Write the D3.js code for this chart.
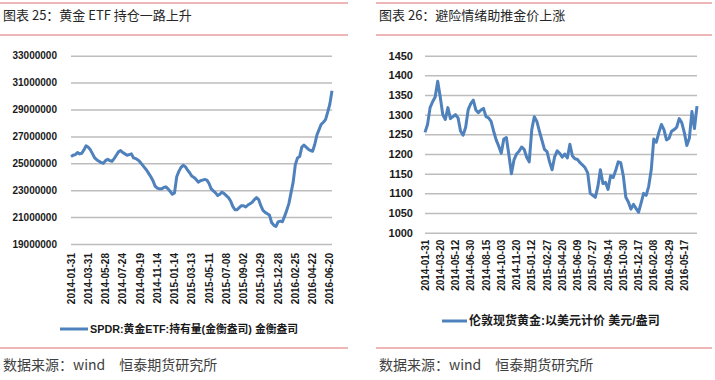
<!DOCTYPE html>
<html><head><meta charset="utf-8">
<script src="https://cdn.jsdelivr.net/npm/d3@7"></script>
<style>body{margin:0;background:#fff}svg{display:block}</style>
</head><body>
<svg id="c" width="715" height="380"></svg>
<script>
// ---- Left chart: SPDR gold ETF holdings (millions of troy oz) ----
const etfTitle = "图表 25：黄金 ETF 持仓一路上升";
const etfLegend = "SPDR:黄金ETF:持有量(金衡盎司) 金衡盎司";
const etfDateLabels = ["2014-01-31","2014-03-31","2014-05-28","2014-07-24","2014-09-19","2014-11-14",
  "2015-01-14","2015-03-13","2015-05-11","2015-07-08","2015-09-02","2015-10-29","2015-12-28",
  "2016-02-25","2016-04-22","2016-06-20"];
const etfYTicks = [19,21,23,25,27,29,31,33]; // millions
const etfHoldingsM = [
  25.5,25.6,25.65,25.8,25.7,25.75,26.0,26.3,26.2,26.0,
  25.7,25.4,25.25,25.15,25.05,25.0,25.2,25.3,25.2,25.15,
  25.35,25.6,25.85,25.95,25.8,25.7,25.6,25.65,25.7,25.4,
  25.35,25.25,25.1,24.9,24.7,24.5,24.25,24.0,23.7,23.3,
  23.15,23.1,23.1,23.2,23.25,23.1,22.9,22.7,22.8,24.0,
  24.4,24.7,24.85,24.75,24.5,24.3,24.05,23.95,23.8,23.6,
  23.7,23.75,23.8,23.75,23.5,23.1,22.95,22.8,22.6,22.7,
  22.85,22.75,22.6,22.45,22.2,21.8,21.55,21.55,21.7,21.85,
  21.85,21.75,21.9,22.0,22.1,22.3,22.45,22.3,21.85,21.5,
  21.35,21.25,21.15,20.6,20.4,20.3,20.65,20.7,20.65,21.05,
  21.5,22.0,22.8,23.6,24.9,25.4,25.5,26.2,26.35,26.2,
  26.05,25.95,25.9,26.4,27.1,27.5,27.9,28.05,28.25,28.8,
  29.4,30.4];
const etfPointsPerLabel = 8;

// ---- Right chart: London spot gold (USD/oz) ----
const goldTitle = "图表 26：避险情绪助推金价上涨";
const goldLegend = "伦敦现货黄金:以美元计价 美元/盎司";
const goldDateLabels = ["2014-01-31","2014-03-20","2014-05-12","2014-06-30","2014-08-15","2014-10-03",
  "2014-11-20","2015-01-12","2015-02-27","2015-04-20","2015-06-09","2015-07-27","2015-09-14",
  "2015-10-30","2015-12-17","2016-02-08","2016-03-29","2016-05-17"];
const goldYTicks = [1000,1050,1100,1150,1200,1250,1300,1350,1400,1450];
const goldPrice = [
  1255,1275,1318,1333,1345,1385,1345,1300,1288,1318,
  1290,1295,1300,1292,1258,1248,1268,1313,1328,1337,
  1312,1305,1312,1316,1295,1292,1283,1258,1236,1220,
  1202,1238,1242,1198,1150,1185,1200,1207,1218,1212,
  1192,1180,1262,1295,1283,1258,1235,1212,1206,1180,
  1160,1193,1208,1202,1192,1200,1190,1225,1195,1188,
  1186,1178,1172,1165,1152,1100,1095,1090,1117,1160,
  1125,1128,1110,1145,1140,1158,1180,1178,1145,1090,
  1078,1060,1072,1062,1052,1075,1100,1095,1118,1160,
  1238,1230,1255,1275,1262,1236,1240,1258,1262,1268,
  1290,1280,1255,1222,1240,1308,1265,1322];
const goldPointsPerLabel = 6;

const sourceText = "数据来源：wind\u3000恒泰期货研究所";

const svg = d3.select("#c");
const RED = "#de6f6f", GRID = "#bdbdbd", BLUE = "#4f81bd";
const LAT = "'Liberation Sans', Arial, 'Noto Sans CJK SC', sans-serif";
const CJK = "'Noto Sans CJK SC', 'Liberation Sans', sans-serif";

function panel(o) {
  const g = svg.append("g");
  [3, 35, 348].forEach(yy => g.append("line").attr("x1", o.ruleX0).attr("x2", o.ruleX1)
    .attr("y1", yy).attr("y2", yy).attr("stroke", RED).attr("stroke-width", 1.2));
  g.append("text").attr("x", o.ruleX0 + 3).attr("y", 20).attr("font-family", CJK)
    .attr("font-size", 13).attr("fill", "#262626").text(o.title);
  g.append("text").attr("x", o.ruleX0 + 3).attr("y", 370).attr("font-family", CJK)
    .attr("font-size", 14).attr("fill", "#404040").text(sourceText);

  const x = d3.scaleLinear().domain([0, o.values.length - 1]).range([o.x0, o.x1]);
  const y = d3.scaleLinear().domain([o.yTicks[0], o.yTicks[o.yTicks.length - 1]]).range([o.yBottom, o.yTop]);

  const ya = g.append("g").attr("transform", `translate(${o.x0},0)`)
    .call(d3.axisLeft(y).tickValues(o.yTicks).tickSize(-(o.x1 - o.x0)).tickPadding(o.tickPad).tickFormat(o.fmt));
  ya.select(".domain").remove();
  ya.selectAll(".tick line").attr("stroke", GRID).attr("stroke-width", 1.5);
  ya.selectAll(".tick text").attr("font-family", LAT).attr("font-weight", "bold")
    .attr("font-size", o.yFont).attr("fill", "#1a1a1a");

  g.selectAll(".xl").data(o.labels).join("text").attr("class", "xl")
    .attr("transform", (d, i) => `translate(${x(i * o.ppl)},${o.yBottom + o.xLabGap}) rotate(-90)`)
    .attr("text-anchor", "end").attr("dy", "0.35em")
    .attr("font-family", LAT).attr("font-weight", "bold").attr("font-size", 10).attr("fill", "#1a1a1a")
    .text(d => d);

  const line = d3.line().x((d, i) => x(i)).y(d => y(d));
  g.append("path").datum(o.values).attr("d", line).attr("fill", "none")
    .attr("stroke", BLUE).attr("stroke-width", 3).attr("stroke-linejoin", "round");

  g.append("line").attr("x1", o.legX).attr("x2", o.legX + o.legLen).attr("y1", o.legY).attr("y2", o.legY)
    .attr("stroke", BLUE).attr("stroke-width", 3);
  g.append("text").attr("x", o.legX + o.legLen + 2).attr("y", o.legY).attr("dy", "0.35em")
    .attr("font-family", LAT).attr("font-weight", "bold").attr("font-size", o.legFont).attr("fill", "#1a1a1a")
    .text(o.legend);
}

panel({
  title: etfTitle, legend: etfLegend, labels: etfDateLabels, values: etfHoldingsM, ppl: etfPointsPerLabel,
  yTicks: etfYTicks, fmt: d => String(d * 1000000), yFont: 10, tickPad: 14,
  ruleX0: 0, ruleX1: 348, x0: 71, x1: 332, yTop: 55.7, yBottom: 244, xLabGap: 9,
  legX: 60, legLen: 28, legY: 329, legFont: 10.8
});
panel({
  title: goldTitle, legend: goldLegend, labels: goldDateLabels, values: goldPrice, ppl: goldPointsPerLabel,
  yTicks: goldYTicks, fmt: d => String(d), yFont: 11, tickPad: 12,
  ruleX0: 376, ruleX1: 712, x0: 425, x1: 697, yTop: 55.7, yBottom: 232.7, xLabGap: 7,
  legX: 442, legLen: 25, legY: 321, legFont: 12
});
</script>
</body></html>
